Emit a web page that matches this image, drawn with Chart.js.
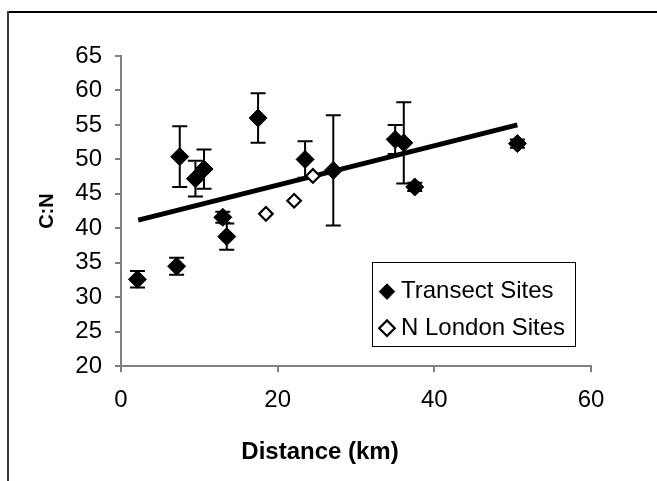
<!DOCTYPE html>
<html>
<head>
<meta charset="utf-8">
<script src="https://cdn.jsdelivr.net/npm/chart.js@4"></script>
<style>
  html, body { margin: 0; padding: 0; background: #fff; }
  #wrap { width: 657px; height: 481px; }
</style>
</head>
<body>
<div id="wrap"><canvas id="cnChart"></canvas></div>
<script>
// C:N ratio against distance
const transectX = [2.1, 7.1, 7.5, 9.5, 10.6, 13.0, 13.5, 17.5, 23.5, 27.1, 35.0, 36.1, 37.5, 50.6];
const transectY = [32.6, 34.5, 50.4, 47.2, 48.6, 41.6, 38.8, 56.0, 50.0, 48.4, 52.9, 52.4, 46.0, 52.3];
const transectErr = [1.2, 1.25, 4.4, 2.6, 2.85, 0.8, 1.9, 3.6, 2.65, 8.0, 2.1, 5.9, 0.6, 0.6];

const londonX = [18.5, 22.1, 24.5];
const londonY = [42.1, 44.0, 47.6];

// fitted trend line end points
const trendX = [2.2, 50.6];
const trendY = [41.2, 55.0];

const xTicks = [0, 20, 40, 60];
const yTicks = [20, 25, 30, 35, 40, 45, 50, 55, 60, 65];

const toPoints = (xs, ys) => xs.map((x, i) => ({ x: x, y: ys[i] }));

Chart.defaults.font.family = "'Liberation Sans', Arial, sans-serif";
Chart.defaults.color = '#000';

const axisGrey = '#808080';

// vertical error bars for the transect sites
const errorBars = {
    id: 'errorBars',
    beforeDatasetsDraw(chart) {
        const ctx = chart.ctx;
        const xs = chart.scales.x, ys = chart.scales.y;
        ctx.save();
        ctx.strokeStyle = '#000';
        ctx.lineWidth = 2;
        transectX.forEach((v, i) => {
            const px = xs.getPixelForValue(v);
            const top = ys.getPixelForValue(transectY[i] + transectErr[i]);
            const bot = ys.getPixelForValue(transectY[i] - transectErr[i]);
            ctx.beginPath();
            ctx.moveTo(px, top); ctx.lineTo(px, bot);
            ctx.moveTo(px - 7.5, top); ctx.lineTo(px + 7.5, top);
            ctx.moveTo(px - 7.5, bot); ctx.lineTo(px + 7.5, bot);
            ctx.stroke();
        });
        ctx.restore();
    }
};

// outer frame and the boxed legend sitting inside the plot
const frameAndLegend = {
    id: 'frameAndLegend',
    afterLayout(chart) {
        const lg = chart.legend;
        lg.left = 372.4; lg.top = 267;
        lg.right = 578; lg.bottom = 400;
        lg.width = lg.right - lg.left;
        lg.height = lg.bottom - lg.top;
    },
    beforeDraw(chart) {
        const ctx = chart.ctx;
        ctx.save();
        ctx.lineWidth = 2;
        ctx.strokeStyle = '#000';
        ctx.beginPath();
        ctx.moveTo(8, 12); ctx.lineTo(657, 12);
        ctx.stroke();
        ctx.strokeStyle = '#3a3a3a';
        ctx.beginPath();
        ctx.moveTo(8, 11); ctx.lineTo(8, 481);
        ctx.stroke();
        ctx.restore();
    },
    afterDraw(chart) {
        const ctx = chart.ctx;
        ctx.save();
        ctx.lineWidth = 1;
        ctx.strokeStyle = '#000';
        ctx.strokeRect(372.5, 262.5, 203, 84);
        ctx.restore();
    }
};

new Chart(document.getElementById('cnChart'), {
    type: 'scatter',
    data: {
        datasets: [
            {
                label: 'Transect Sites',
                data: toPoints(transectX, transectY),
                pointStyle: 'rectRot',
                pointRadius: 9,
                pointHoverRadius: 9,
                backgroundColor: '#000',
                borderColor: '#000',
                borderWidth: 1
            },
            {
                label: 'N London Sites',
                data: toPoints(londonX, londonY),
                pointStyle: 'rectRot',
                pointRadius: 6.8,
                pointHoverRadius: 6.8,
                backgroundColor: '#fff',
                borderColor: '#000',
                borderWidth: 2.2
            },
            {
                label: 'trend',
                type: 'line',
                data: toPoints(trendX, trendY),
                borderColor: '#000',
                borderWidth: 5,
                pointRadius: 0,
                fill: false
            }
        ]
    },
    options: {
        responsive: true,
        maintainAspectRatio: false,
        animation: false,
        layout: { padding: { left: 0, top: 56, right: 17, bottom: 0 } },
        plugins: {
            legend: {
                position: 'chartArea',
                align: 'start',
                labels: {
                    usePointStyle: true,
                    boxWidth: 4,
                    boxHeight: 11,
                    padding: 12.6,
                    color: '#000',
                    font: { size: 24 },
                    filter: item => item.text !== 'trend'
                }
            },
            title: {
                display: true,
                position: 'bottom',
                text: 'Distance (km)',
                color: '#000',
                font: { size: 24, weight: 'bold' },
                padding: { top: 0, bottom: 14 }
            },
            tooltip: { enabled: false }
        },
        scales: {
            x: {
                type: 'linear',
                min: 0,
                max: 60,
                afterBuildTicks: s => { s.ticks = xTicks.map(v => ({ value: v })); },
                afterFit: s => { s.height = 72; },
                border: { display: true, color: axisGrey, width: 2 },
                grid: { drawOnChartArea: false, drawTicks: true, tickLength: 6, tickColor: axisGrey, lineWidth: 2 },
                ticks: { padding: 14, color: '#000', font: { size: 24 } }
            },
            y: {
                type: 'linear',
                min: 20,
                max: 65,
                afterBuildTicks: s => { s.ticks = yTicks.map(v => ({ value: v })); },
                afterFit: s => { s.width = 121; },
                border: { display: true, color: axisGrey, width: 2 },
                grid: { drawOnChartArea: false, drawTicks: true, tickLength: 6, tickColor: axisGrey, lineWidth: 2 },
                ticks: { padding: 13, color: '#000', font: { size: 24 } },
                title: {
                    display: true,
                    text: 'C:N',
                    color: '#000',
                    font: { size: 20, weight: 'bold' },
                    padding: { top: 35, bottom: 0 }
                }
            },
            yRight: {
                type: 'linear',
                position: 'right',
                display: true,
                afterFit: s => { s.width = 49; },
                ticks: { display: false },
                grid: { display: false },
                border: { display: false }
            }
        }
    },
    plugins: [errorBars, frameAndLegend]
});
</script>
</body>
</html>
